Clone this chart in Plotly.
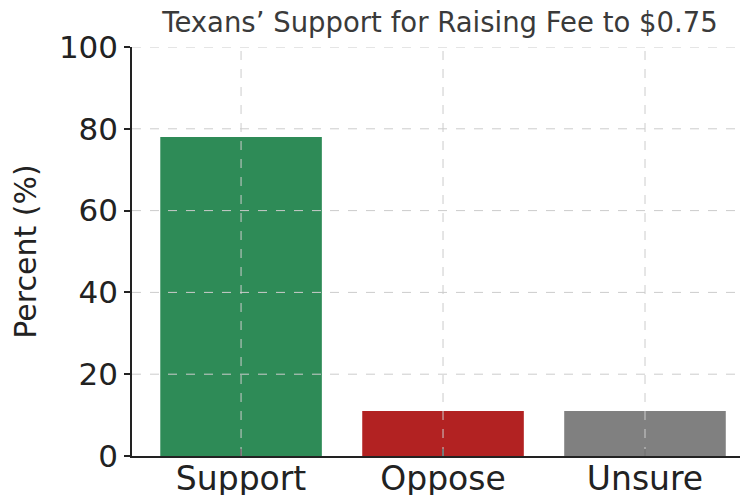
import plotly.graph_objects as go

categories = ["Support", "Oppose", "Unsure"]
values = [78, 11, 11]
colors = ["#2E8B57", "#B22222", "#808080"]
y_ticks = [0, 20, 40, 60, 80, 100]

fig = go.Figure()
fig.add_trace(go.Bar(
    x=list(range(len(categories))), y=values,
    marker=dict(color=colors, line=dict(width=0)),
    width=0.8,
))

grid = dict(color="#cccccc", width=1, dash="dash")
shapes = []
for t in y_ticks[1:]:
    shapes.append(dict(type="line", xref="paper", x0=0, x1=1, yref="y", y0=t, y1=t,
                       line=grid, layer="above"))
for i in range(len(categories)):
    shapes.append(dict(type="line", xref="x", x0=i, x1=i, yref="paper", y0=0, y1=1,
                       line=grid, layer="above"))

fig.update_layout(
    width=740, height=487,
    margin=dict(l=124, r=0, t=39, b=39),
    paper_bgcolor="white", plot_bgcolor="white",
    font=dict(family="DejaVu Sans", color="#222222"),
    title=dict(text="Texans’ Support for Raising Fee to $0.75", x=0.5, xref="paper",
               xanchor="center", y=1 - 14 / 487, yref="container", yanchor="middle",
               font=dict(size=27.5, color="#3a3a3a")),
    shapes=shapes,
    showlegend=False,
)
fig.update_xaxes(
    range=[-0.54, 2.51], tickmode="array", tickvals=list(range(len(categories))),
    ticktext=categories, showgrid=False, zeroline=False, automargin=False,
    showline=True, linecolor="#222222", linewidth=1.5,
    ticks="inside", ticklen=7, tickwidth=1.5, tickcolor="#222222",
    tickfont=dict(size=33, color="#222222"), ticklabelstandoff=-7,
)
fig.update_yaxes(
    range=[0, 100], tickmode="array", tickvals=y_ticks, showgrid=False, zeroline=False,
    automargin=False,
    showline=True, linecolor="#222222", linewidth=1.5,
    ticks="outside", ticklen=6, tickwidth=1.5, tickcolor="#222222",
    tickfont=dict(size=31, color="#222222"),
    title=dict(text="Percent (%)", font=dict(size=30, color="#222222"), standoff=20),
)
fig.write_html("out.html")
